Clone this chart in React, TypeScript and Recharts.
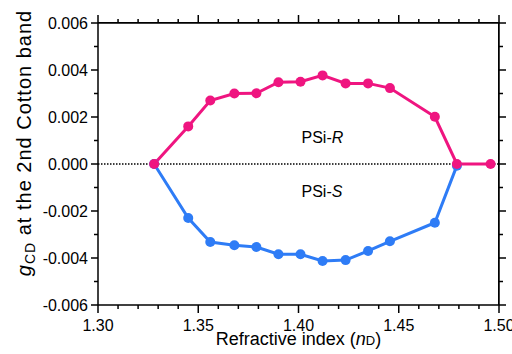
import React from "react";
import { LineChart, Line, XAxis, YAxis, ReferenceLine, ReferenceDot, Label } from "recharts";

const refractiveIndex = [1.328, 1.345, 1.356, 1.368, 1.379, 1.39, 1.401, 1.412, 1.4235, 1.4347, 1.4456, 1.468, 1.479, 1.4958];
const gcdR = [0, 0.0016, 0.0027, 0.003, 0.00301, 0.00348, 0.0035, 0.00377, 0.00343, 0.00343, 0.00323, 0.00201, 0, 0];
const gcdS = [0, -0.0023, -0.00332, -0.00346, -0.00353, -0.00384, -0.00384, -0.00413, -0.00409, -0.0037, -0.00329, -0.0025, -0.00007, null];

const xTicks = [1.3, 1.31, 1.32, 1.33, 1.34, 1.35, 1.36, 1.37, 1.38, 1.39, 1.4, 1.41, 1.42, 1.43, 1.44, 1.45, 1.46, 1.47, 1.48, 1.49, 1.5];
const xMajorTicks = [1.3, 1.35, 1.4, 1.45, 1.5];
const xTickLabels = ["1.30", "1.35", "1.40", "1.45", "1.50"];
const yTicks = [-0.006, -0.005, -0.004, -0.003, -0.002, -0.001, 0, 0.001, 0.002, 0.003, 0.004, 0.005, 0.006];
const yMajorTicks = [-0.006, -0.004, -0.002, 0, 0.002, 0.004, 0.006];
const yTickLabels = ["-0.006", "-0.004", "-0.002", "0.000", "0.002", "0.004", "0.006"];

const data = refractiveIndex.map((n, i) => ({ n, r: gcdR[i], s: gcdS[i] }));

const FONT = "'Liberation Sans', Arial, sans-serif";
const RED = "#EF1580";
const BLUE = "#2E7CF6";
const W = 512;
const H = 354;
const PLOT_TOP = 23;
const PLOT_RIGHT = 499;
const PLOT_LEFT = 98;
const PLOT_BOTTOM = 305;

const majorIndex = (arr: number[], v: number) => arr.findIndex((m) => Math.abs(m - v) < 1e-9);

const XTick = (props: any) => {
  const { x, y, payload } = props;
  const mi = majorIndex(xMajorTicks, payload.value);
  const len = mi >= 0 ? 8 : 4;
  return (
    <g>
      <path d={`M${x},${y}V${y + len}`} stroke="#000" strokeWidth={1.5} fill="none" />
      <path d={`M${x},${PLOT_TOP}V${PLOT_TOP - len}`} stroke="#000" strokeWidth={1.5} fill="none" />
      {mi >= 0 && (
        <text x={x} y={y + 26} textAnchor="middle" fontFamily={FONT} fontSize={16} fill="#000">
          {xTickLabels[mi]}
        </text>
      )}
    </g>
  );
};

const YTick = (props: any) => {
  const { x, y, payload } = props;
  const mi = majorIndex(yMajorTicks, payload.value);
  const len = mi >= 0 ? 7 : 4;
  return (
    <g>
      <path d={`M${x},${y}H${x - len}`} stroke="#000" strokeWidth={1.5} fill="none" />
      <path d={`M${PLOT_RIGHT},${y}H${PLOT_RIGHT + len}`} stroke="#000" strokeWidth={1.5} fill="none" />
      {mi >= 0 && (
        <text x={x - 10} y={y + 6} textAnchor="end" fontFamily={FONT} fontSize={16} fill="#000">
          {yTickLabels[mi]}
        </text>
      )}
    </g>
  );
};

const XTitle = (props: any) => {
  const { viewBox } = props;
  const cx = viewBox.x + viewBox.width / 2;
  return (
    <g>
      <path d={`M${PLOT_LEFT},${PLOT_TOP}H${PLOT_RIGHT}V${PLOT_BOTTOM}`} stroke="#000" strokeWidth={1.5} fill="none" />
      <text x={cx} y={viewBox.y + 40} textAnchor="middle" fontFamily={FONT} fontSize={18} fill="#000">
        Refractive index (<tspan fontStyle="italic">n</tspan>
        <tspan fontSize={13}>D</tspan>)
      </text>
    </g>
  );
};

const YTitle = () => {
  const tx = 31;
  const ty = 143;
  return (
    <text x={tx} y={ty} transform={`rotate(-90 ${tx} ${ty})`} textAnchor="middle" fontFamily={FONT} fontSize={20} letterSpacing={1} fill="#000">
      <tspan fontStyle="italic">g</tspan>
      <tspan fontSize={14} dy={4}>CD</tspan>
      <tspan dy={-4}> at the 2nd Cotton band</tspan>
    </text>
  );
};

const annot = (prefix: string, suffix: string) => (props: any) => {
  const { viewBox } = props;
  return (
    <text x={viewBox.x} y={viewBox.y} fontFamily={FONT} fontSize={16} fill="#000">
      {prefix}
      <tspan fontStyle="italic">{suffix}</tspan>
    </text>
  );
};

export default function App() {
  return (
    <div style={{ position: "absolute", left: 0, top: 0, width: W, height: H, background: "#fff" }}>
      <LineChart width={W} height={H} data={data} margin={{ top: PLOT_TOP, right: W - PLOT_RIGHT, left: 0, bottom: 0 }}>
        <XAxis
          dataKey="n"
          type="number"
          domain={[1.3, 1.5]}
          ticks={xTicks}
          interval={0}
          height={49}
          tickSize={0}
          tickMargin={0}
          tickLine={false}
          axisLine={{ stroke: "#000", strokeWidth: 1.5 }}
          tick={XTick}
          allowDataOverflow
        >
          <Label content={<XTitle />} />
        </XAxis>
        <YAxis
          type="number"
          domain={[-0.006, 0.006]}
          ticks={yTicks}
          interval={0}
          width={98}
          tickSize={0}
          tickMargin={0}
          tickLine={false}
          axisLine={{ stroke: "#000", strokeWidth: 1.5 }}
          tick={YTick}
          allowDataOverflow
        >
          <Label content={<YTitle />} />
        </YAxis>
        <ReferenceLine y={0} stroke="#000" strokeWidth={1.3} strokeDasharray="1.5 1.5" ifOverflow="visible" />
        <ReferenceDot x={1.4015} y={0.0009} r={0} fill="none" stroke="none" label={annot("PSi-", "R")} />
        <ReferenceDot x={1.4015} y={-0.00141} r={0} fill="none" stroke="none" label={annot("PSi-", "S")} />
        <Line
          dataKey="s"
          stroke={BLUE}
          strokeWidth={3}
          dot={{ r: 5, fill: BLUE, stroke: BLUE, strokeWidth: 0 }}
          isAnimationActive={false}
        />
        <Line
          dataKey="r"
          stroke={RED}
          strokeWidth={3}
          dot={{ r: 5, fill: RED, stroke: RED, strokeWidth: 0 }}
          isAnimationActive={false}
        />
      </LineChart>
      <div
        style={{
          position: "absolute",
          left: PLOT_LEFT,
          top: PLOT_TOP - 1,
          width: PLOT_RIGHT - PLOT_LEFT - 1,
          height: PLOT_BOTTOM - PLOT_TOP,
          borderTop: "1.5px solid #000",
          borderRight: "1.5px solid #000",
          pointerEvents: "none",
        }}
      />
    </div>
  );
}
